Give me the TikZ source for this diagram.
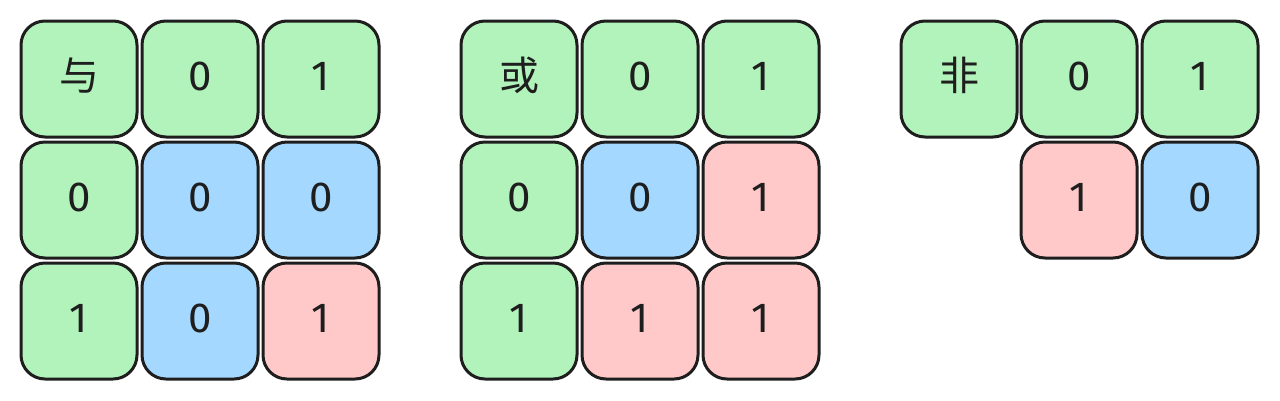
\documentclass[tikz,border=0pt]{standalone}
\usepackage{fontspec}
\setmainfont{Fira Sans}
\newfontfamily\cjk{Noto Sans CJK SC}
\definecolor{gfill}{HTML}{B2F2BB}
\definecolor{bfill}{HTML}{A5D8FF}
\definecolor{rfill}{HTML}{FFC9C9}
\definecolor{strk}{HTML}{1E1E1E}
\tikzset{
  cell/.style={draw=strk, line width=3pt, rounded corners=24pt, minimum size=116pt,
    inner sep=0pt, text height=31pt, text depth=8pt, text=strk, font=\fontsize{42}{42}\selectfont},
  gcell/.style={cell, fill=gfill},
  bcell/.style={cell, fill=bfill},
  rcell/.style={cell, fill=rfill},
  hcell/.style={gcell, font=\cjk\fontsize{40}{40}\selectfont}
}
\begin{document}
\begin{tikzpicture}[x=1pt,y=-1pt]
\useasboundingbox (0,0) rectangle (1280,400);
% AND
\node[hcell] (a00) at (79,79) {与};
\node[gcell] (a01) at (200,79) {0};
\node[gcell] (a02) at (321,79) {1};
\node[gcell] (a10) at (79,200) {0};
\node[bcell] (a11) at (200,200) {0};
\node[bcell] (a12) at (321,200) {0};
\node[gcell] (a20) at (79,321) {1};
\node[bcell] (a21) at (200,321) {0};
\node[rcell] (a22) at (321,321) {1};
% OR
\node[hcell] (o00) at (519,79) {或};
\node[gcell] (o01) at (640,79) {0};
\node[gcell] (o02) at (761,79) {1};
\node[gcell] (o10) at (519,200) {0};
\node[bcell] (o11) at (640,200) {0};
\node[rcell] (o12) at (761,200) {1};
\node[gcell] (o20) at (519,321) {1};
\node[rcell] (o21) at (640,321) {1};
\node[rcell] (o22) at (761,321) {1};
% NOT
\node[hcell] (n00) at (959,79) {非};
\node[gcell] (n01) at (1079,79) {0};
\node[gcell] (n02) at (1200,79) {1};
\node[rcell] (n11) at (1079,200) {1};
\node[bcell] (n12) at (1200,200) {0};
\end{tikzpicture}
\end{document}
